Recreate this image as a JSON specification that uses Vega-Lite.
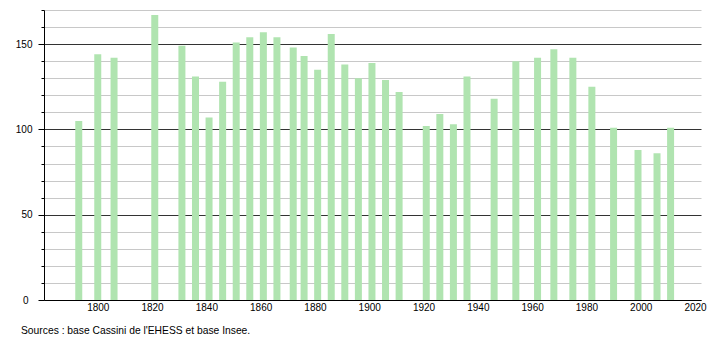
{
  "$schema": "https://vega.github.io/schema/vega-lite/v6.json",
  "width": 657,
  "height": 290,
  "autosize": {"type": "none"},
  "padding": {"left": 44, "top": 10, "right": 9, "bottom": 40},
  "background": "white",
  "config": {
    "view": {"stroke": null},
    "font": "Liberation Sans",
    "axis": {"labelFont": "Liberation Sans", "labelFontSize": 10, "labelColor": "#000"}
  },
  "title": {
    "text": "Sources : base Cassini de l'EHESS et base Insee.",
    "orient": "bottom",
    "anchor": "start",
    "frame": "group",
    "dx": -23,
    "offset": 14,
    "fontSize": 10.3,
    "fontWeight": "normal",
    "font": "Liberation Sans",
    "color": "#000"
  },
  "data": {
    "values": [
      {"year": 1793, "pop": 105},
      {"year": 1800, "pop": 144},
      {"year": 1806, "pop": 142},
      {"year": 1821, "pop": 167},
      {"year": 1831, "pop": 149},
      {"year": 1836, "pop": 131},
      {"year": 1841, "pop": 107},
      {"year": 1846, "pop": 128},
      {"year": 1851, "pop": 151},
      {"year": 1856, "pop": 154},
      {"year": 1861, "pop": 157},
      {"year": 1866, "pop": 154},
      {"year": 1872, "pop": 148},
      {"year": 1876, "pop": 143},
      {"year": 1881, "pop": 135},
      {"year": 1886, "pop": 156},
      {"year": 1891, "pop": 138},
      {"year": 1896, "pop": 130},
      {"year": 1901, "pop": 139},
      {"year": 1906, "pop": 129},
      {"year": 1911, "pop": 122},
      {"year": 1921, "pop": 102},
      {"year": 1926, "pop": 109},
      {"year": 1931, "pop": 103},
      {"year": 1936, "pop": 131},
      {"year": 1946, "pop": 118},
      {"year": 1954, "pop": 140},
      {"year": 1962, "pop": 142},
      {"year": 1968, "pop": 147},
      {"year": 1975, "pop": 142},
      {"year": 1982, "pop": 125},
      {"year": 1990, "pop": 101},
      {"year": 1999, "pop": 88},
      {"year": 2006, "pop": 86},
      {"year": 2011, "pop": 101}
    ]
  },
  "mark": {"type": "bar", "width": 7, "color": "#b0e4b0"},
  "encoding": {
    "x": {
      "field": "year",
      "type": "quantitative",
      "scale": {"domain": [1780.2, 2022.2], "nice": false, "zero": false, "padding": 0},
      "axis": {
        "title": null,
        "values": [1800, 1820, 1840, 1860, 1880, 1900, 1920, 1940, 1960, 1980, 2000, 2020],
        "format": "d",
        "ticks": false,
        "grid": false,
        "domainColor": "#000",
        "domainWidth": 1,
        "labelPadding": 2,
        "labelFlush": false,
        "labelOverlap": false
      }
    },
    "y": {
      "field": "pop",
      "type": "quantitative",
      "scale": {"domain": [0, 170], "nice": false, "padding": 0},
      "axis": {
        "title": null,
        "values": [0, 10, 20, 30, 40, 50, 60, 70, 80, 90, 100, 110, 120, 130, 140, 150, 160, 170],
        "labelExpr": "datum.value % 50 === 0 ? datum.label : ''",
        "domainColor": "#000",
        "domainWidth": 1,
        "tickColor": "#000",
        "tickSize": {"condition": {"test": "datum.value % 50 === 0", "value": 6}, "value": 3},
        "labelPadding": {"condition": {"test": "datum.value === 0", "value": 10}, "value": 6},
        "labelOverlap": false,
        "labelFlush": false,
        "gridColor": {"condition": {"test": "datum.value % 50 === 0", "value": "#333333"}, "value": "#c8c8c8"},
        "gridWidth": 1,
        "gridOpacity": 1
      }
    }
  }
}
